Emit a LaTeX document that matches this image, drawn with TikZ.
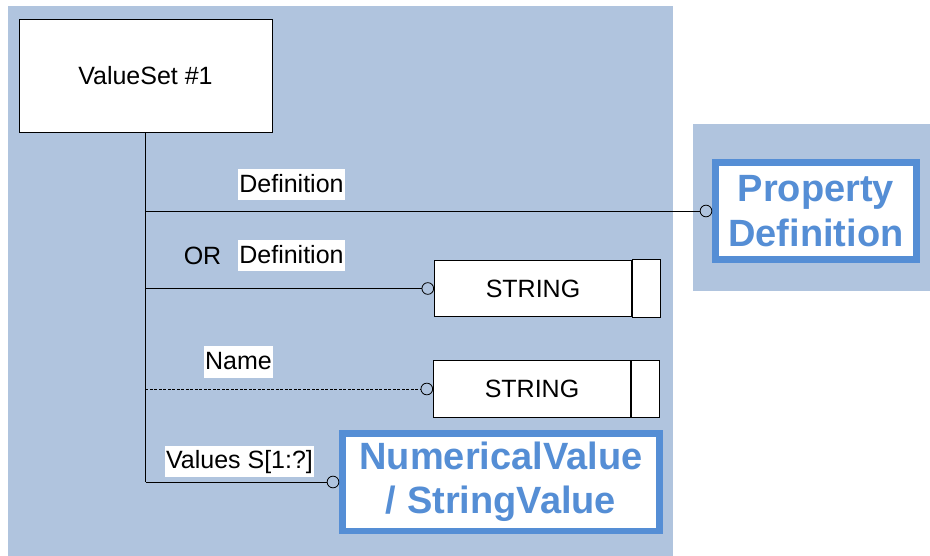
\documentclass[tikz,border=0pt]{standalone}
\usepackage{fontspec}
\setmainfont{Liberation Sans}
\usepackage{tikz}
\usetikzlibrary{arrows.meta,positioning}

\definecolor{bgblue}{RGB}{176,196,222}
\definecolor{entblue}{RGB}{85,142,213}

\tikzset{
  entity/.style={draw,fill=white,line width=0.9pt,inner sep=0pt},
  strbox/.style={draw,fill=white,line width=0.9pt,inner sep=0pt,
    minimum width=197pt,minimum height=56.5pt},
  bigent/.style={draw=entblue,fill=white,line width=6.5pt,inner sep=0pt,
    text=entblue,align=center,font=\fontsize{38}{44.5}\selectfont\bfseries},
  lbl/.style={fill=white,inner xsep=1pt,inner ysep=0.75pt,text height=22.5pt,text depth=7pt},
  endo/.style={-{Circle[open,length=12.5pt,width=12.5pt]},line width=0.8pt},
}

\begin{document}
\begin{tikzpicture}[x=1pt,y=-1pt,font=\fontsize{25}{30}\selectfont]
  \useasboundingbox (0,0) rectangle (930,556);
  % backgrounds
  \fill[bgblue] (8,6) rectangle (673,556);
  \fill[bgblue] (693,124) rectangle (930,291);

  \node[entity,minimum width=253pt,minimum height=113pt] (vs) at (145.5,75.5) {ValueSet \#1};
  \node[bigent,minimum width=201pt,minimum height=97pt] (pd) at (816,211) {Property\\Definition};
  \node[strbox] (s1) at (533,288.5) {STRING};
  \node[strbox] (s2) at (532,389) {STRING};
  \node[bigent,minimum width=317pt,minimum height=97.5pt] (nv) at (501,482) {NumericalValue\\/ StringValue};
  % small end cells
  \draw[entity] (s1.north east) rectangle ([xshift=28pt]s1.south east);
  \draw[entity] (s2.north east) rectangle ([xshift=28pt]s2.south east);

	% Draw links
  \draw[line width=0.8pt] (vs.south) -- (vs.south |- nv.west);
  \draw[endo] (vs.south |- pd.west) -- (pd.west);
  \draw[endo] (vs.south |- s1.west) -- (s1.west);
  \draw[endo,dash pattern=on 3pt off 1.5pt] (vs.south) |- (s2.west);
  \draw[endo] (vs.south |- nv.west) -- (nv.west);

  \node[lbl] (ldef) at (291.5,184.5) {Definition};
  \node (lor) at (202.5,255.5) {OR};
  \node[lbl] (ldefb) at (291.5,255.5) {Definition};
  \node[lbl] (lname) at (238.5,362) {Name};
  \node[lbl] (lval) at (239.5,461) {Values S[1:?]};
\end{tikzpicture}
\end{document}
